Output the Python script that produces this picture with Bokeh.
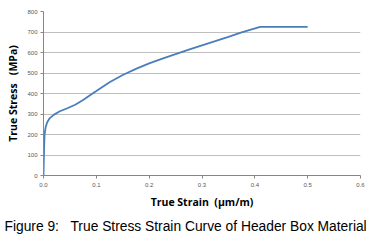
from bokeh.plotting import figure
from bokeh.embed import file_html
from bokeh.resources import INLINE
from bokeh.models import FixedTicker, PrintfTickFormatter, Title, Range1d

strain = [0, 0.001, 0.002, 0.004, 0.007, 0.012, 0.02, 0.03, 0.045, 0.06, 0.075, 0.09,
          0.1, 0.125, 0.15, 0.175, 0.2, 0.225, 0.25, 0.275, 0.3, 0.325, 0.35, 0.375, 0.41, 0.5]
stress = [0, 120, 200, 235, 260, 280, 297, 312, 328, 345, 368, 395,
          412, 455, 490, 520, 547, 570, 592, 614, 635, 655, 676, 698, 725, 725]
x_ticks = [0, 0.1, 0.2, 0.3, 0.4, 0.5, 0.6]
y_ticks = [0, 100, 200, 300, 400, 500, 600, 700, 800]

NB = "\u00a0"

p = figure(width=374, height=244, output_backend="svg", toolbar_location=None,
           x_range=Range1d(0, 0.6), y_range=Range1d(0, 800),
           min_border_left=43, min_border_right=14, min_border_top=11, min_border_bottom=69)
p.background_fill_color = "white"
p.border_fill_color = "white"
p.outline_line_color = None

p.line(strain, stress, line_color="#4a7ebb", line_width=1.8)

p.xgrid.grid_line_color = None
p.ygrid.grid_line_color = "#bfbfbf"
p.ygrid.grid_line_width = 1

p.xaxis.ticker = FixedTicker(ticks=x_ticks)
p.yaxis.ticker = FixedTicker(ticks=y_ticks)
p.xaxis.formatter = PrintfTickFormatter(format="%.1f")
for ax in (p.xaxis[0], p.yaxis[0]):
    ax.axis_line_color = "#868686"
    ax.major_tick_line_color = "#868686"
    ax.major_tick_out = 3
    ax.major_tick_in = 0
    ax.minor_tick_line_color = None
    ax.major_label_text_font = "Liberation Sans"
    ax.major_label_text_font_size = "6px"
    ax.major_label_text_color = "#595959"
    ax.axis_label_text_font = "Open Sans"
    ax.axis_label_text_font_style = "bold"
    ax.axis_label_text_font_size = "10.5px"
    ax.axis_label_text_color = "#000000"

p.xaxis.axis_label = "True Strain" + NB + NB + "(µm/m)"
p.yaxis.axis_label = "True Stress" + NB + NB + NB + "(MPa)"
p.xaxis.major_label_standoff = 4
p.yaxis.major_label_standoff = 3
p.xaxis.axis_label_standoff = 5
p.yaxis.axis_label_standoff = 4

cap = Title(text="Figure 9:" + NB + NB + NB + "True Stress Strain Curve of Header Box Material",
            text_font="Liberation Sans", text_font_size="13.8px", text_font_style="normal",
            text_color="#000000", align="left", offset=-39, standoff=10)
p.add_layout(cap, "below")

open("out.html", "w").write(file_html(p, INLINE))
